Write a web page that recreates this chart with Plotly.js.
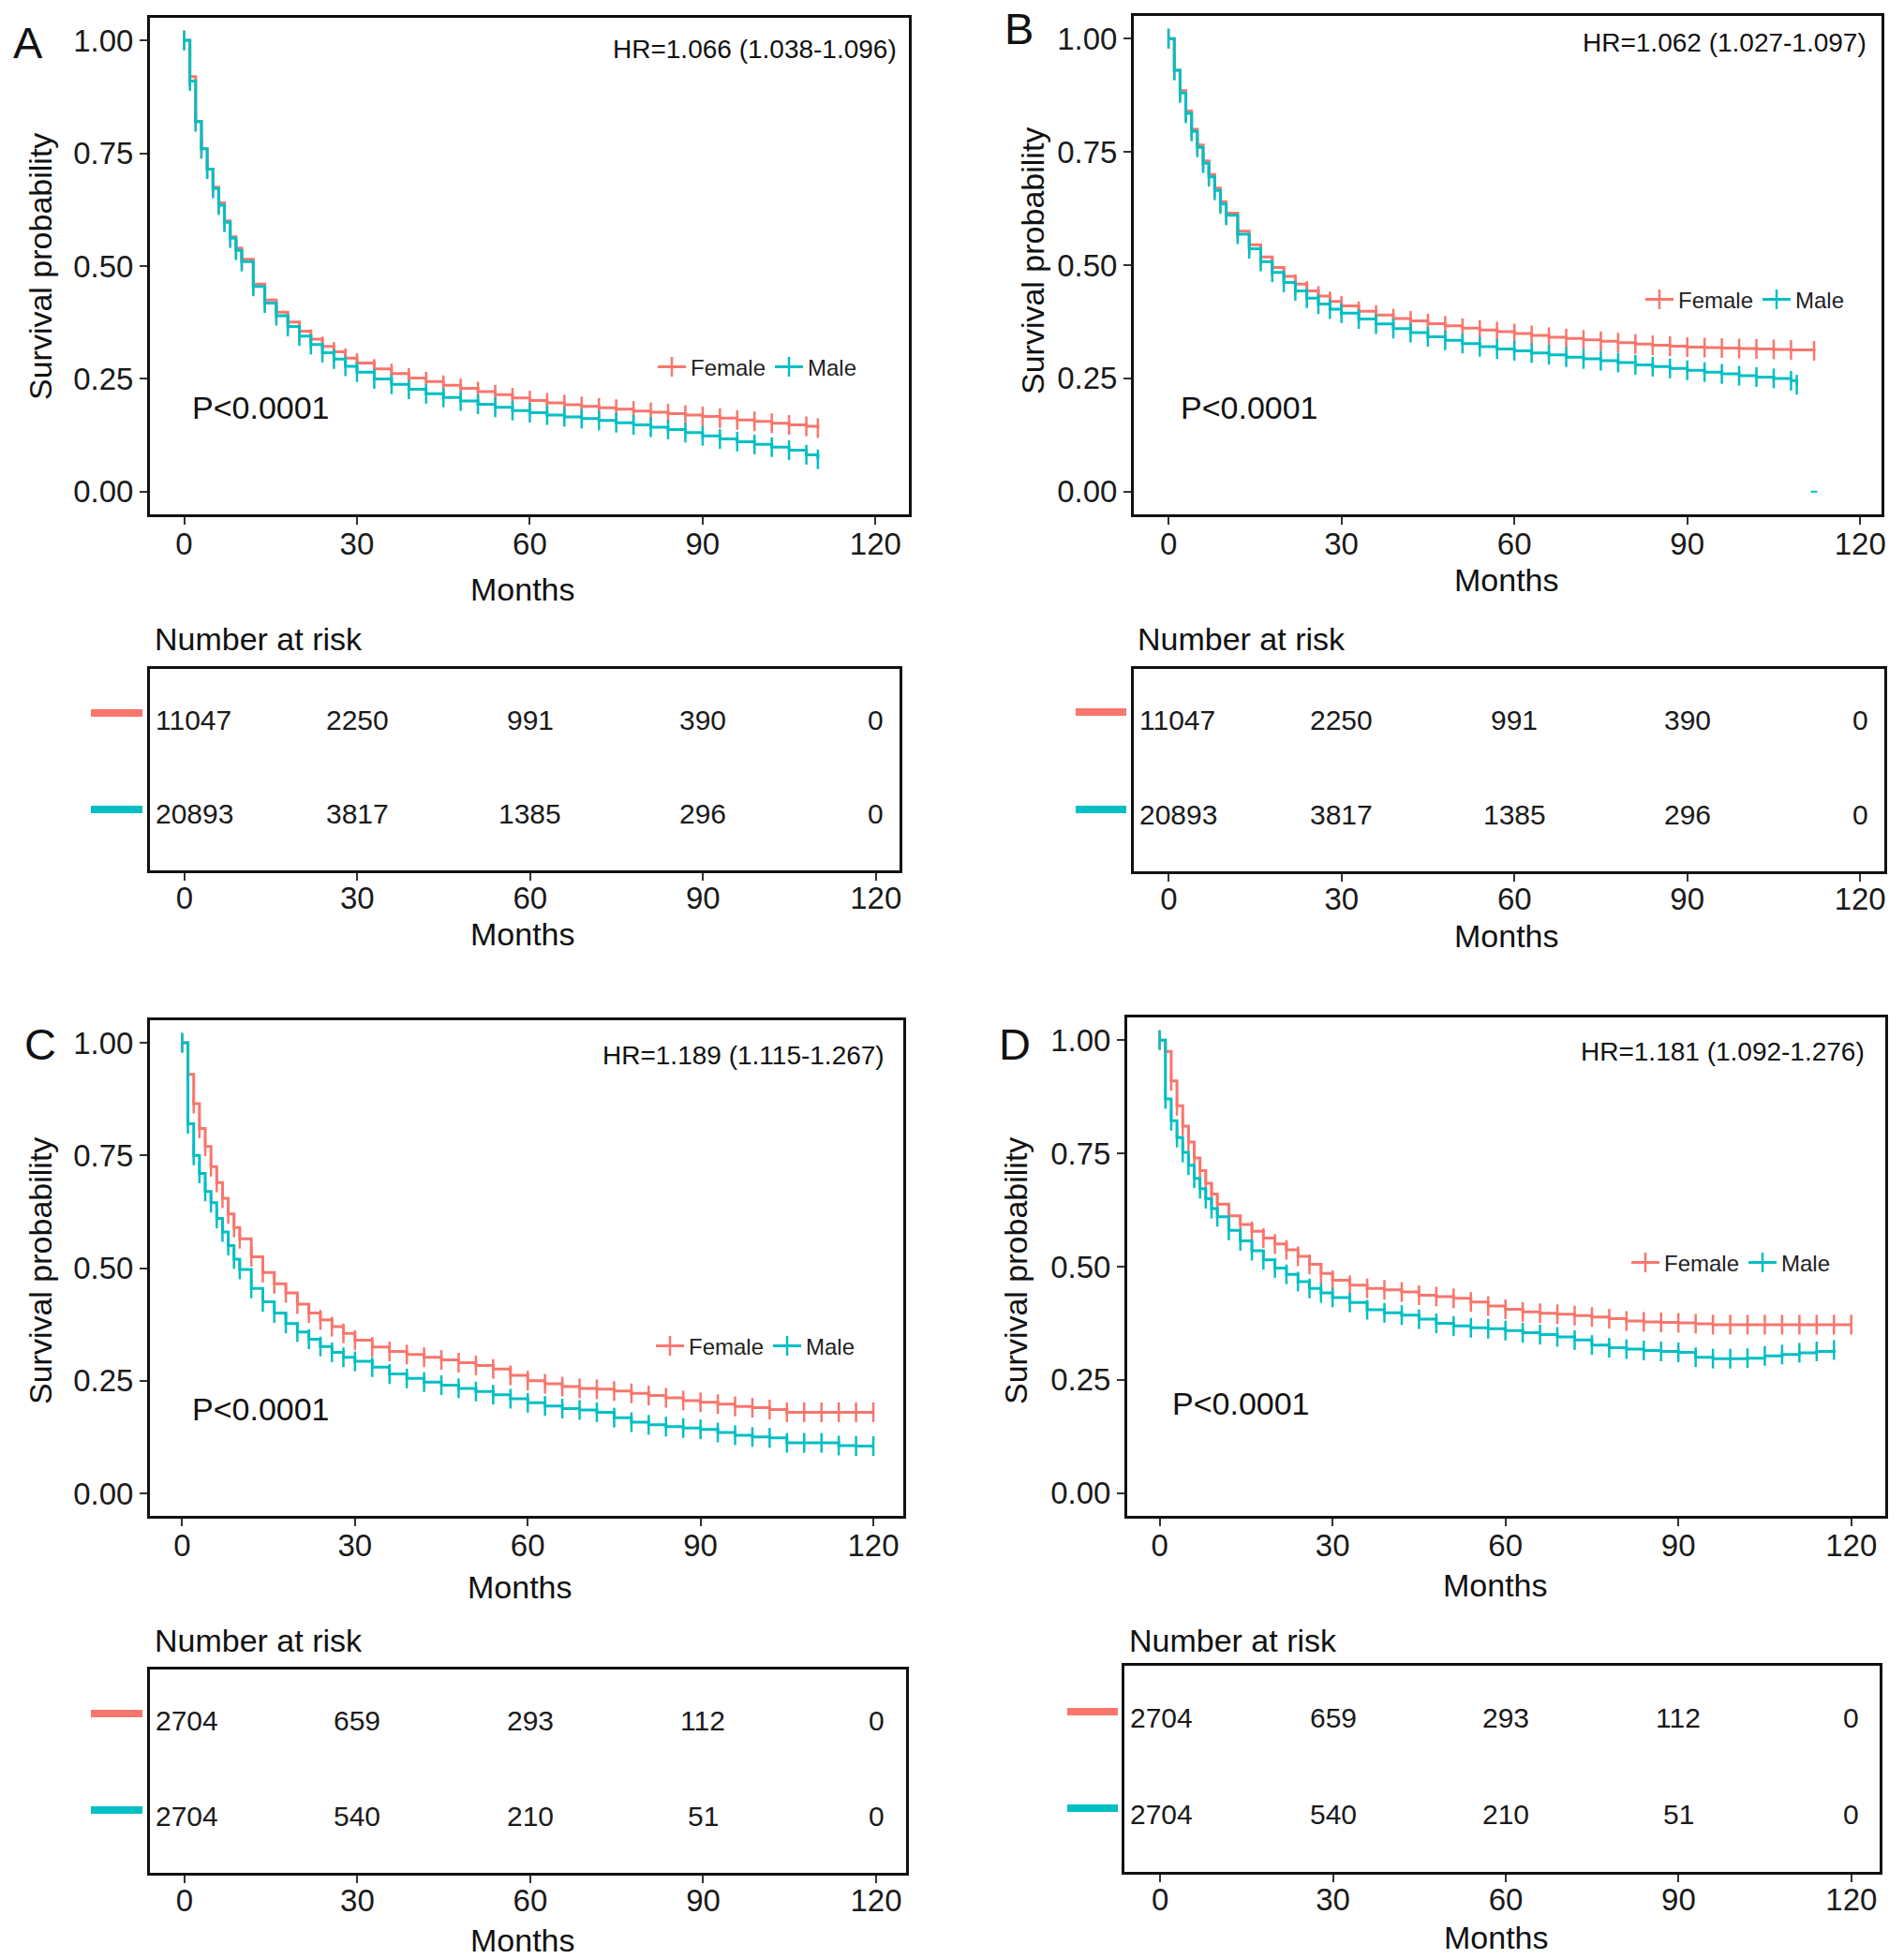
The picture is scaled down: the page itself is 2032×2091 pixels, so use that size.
<!DOCTYPE html>
<html>
<head>
<meta charset="utf-8">
<script src="https://cdn.plot.ly/plotly-3.0.1.min.js"></script>
<style>html,body{margin:0;padding:0;background:#fff;}#chart{width:2032px;height:2091px;}</style>
</head>
<body>
<div id="chart"></div>
<script>
// ---------------- DATA ----------------
var tA = [0,1,2,3,4,5,6,7,8,9,10,12,14,16,18,20,22,24,26,28,30,33,36,39,42,45,48,51,54,57,60,63,66,69,72,75,78,81,84,87,90,93,96,99,102,105,108,110];
var femaleA = [1.0,0.92,0.82,0.76,0.715,0.675,0.64,0.60,0.565,0.54,0.515,0.46,0.425,0.398,0.376,0.356,0.338,0.322,0.31,0.296,0.285,0.272,0.262,0.252,0.244,0.236,0.229,0.222,0.215,0.208,0.202,0.197,0.193,0.189,0.186,0.183,0.179,0.176,0.173,0.170,0.167,0.163,0.159,0.156,0.152,0.148,0.145,0.141];
var maleA = [1.0,0.91,0.82,0.76,0.715,0.672,0.635,0.597,0.562,0.535,0.51,0.455,0.418,0.39,0.366,0.345,0.326,0.308,0.294,0.278,0.265,0.25,0.238,0.227,0.217,0.209,0.201,0.194,0.187,0.18,0.175,0.170,0.166,0.162,0.158,0.153,0.148,0.143,0.138,0.131,0.124,0.117,0.111,0.105,0.099,0.092,0.082,0.072];

var tBf = [0,1,2,3,4,5,6,7,8,9,10,12,14,16,18,20,22,24,26,28,30,33,36,39,42,45,48,51,54,57,60,63,66,69,72,75,78,81,84,87,90,93,96,99,102,105,108,112];
var tBm = [0,1,2,3,4,5,6,7,8,9,10,12,14,16,18,20,22,24,26,28,30,33,36,39,42,45,48,51,54,57,60,63,66,69,72,75,78,81,84,87,90,93,96,99,102,105,108,109];
var femaleB = [1.0,0.93,0.885,0.84,0.80,0.765,0.73,0.70,0.67,0.64,0.615,0.575,0.545,0.518,0.495,0.475,0.458,0.443,0.432,0.42,0.41,0.398,0.39,0.382,0.377,0.371,0.366,0.361,0.357,0.353,0.349,0.345,0.341,0.338,0.335,0.332,0.329,0.326,0.323,0.321,0.319,0.318,0.317,0.316,0.315,0.314,0.313,0.311];
var maleB = [1.0,0.93,0.88,0.835,0.795,0.76,0.725,0.695,0.665,0.635,0.61,0.568,0.536,0.508,0.484,0.462,0.443,0.427,0.414,0.403,0.394,0.381,0.37,0.36,0.351,0.342,0.334,0.327,0.32,0.315,0.311,0.306,0.302,0.297,0.293,0.289,0.285,0.28,0.276,0.272,0.268,0.264,0.26,0.256,0.253,0.25,0.245,0.236];
var maleBTailT = [112];
var maleBTailS = [0];

var tC = [0,1,2,3,4,5,6,7,8,9,10,12,14,16,18,20,22,24,26,28,30,33,36,39,42,45,48,51,54,57,60,63,66,69,72,75,78,81,84,87,90,93,96,99,102,105,108,111,114,117,120];
var femaleC = [1.0,0.93,0.865,0.81,0.77,0.725,0.69,0.655,0.62,0.59,0.565,0.525,0.49,0.465,0.445,0.42,0.40,0.385,0.37,0.355,0.34,0.325,0.315,0.308,0.302,0.296,0.29,0.284,0.276,0.262,0.25,0.243,0.237,0.233,0.231,0.227,0.222,0.217,0.212,0.206,0.202,0.198,0.193,0.19,0.186,0.18,0.18,0.18,0.18,0.18,0.18];
var maleC = [1.0,0.82,0.75,0.71,0.67,0.645,0.61,0.58,0.55,0.52,0.497,0.455,0.425,0.40,0.377,0.358,0.342,0.326,0.313,0.302,0.293,0.28,0.265,0.255,0.247,0.24,0.233,0.226,0.219,0.21,0.201,0.194,0.188,0.185,0.18,0.168,0.158,0.152,0.148,0.145,0.142,0.135,0.129,0.125,0.123,0.112,0.112,0.112,0.106,0.105,0.105];

var tDf = [0,1,2,3,4,5,6,7,8,9,10,12,14,16,18,20,22,24,26,28,30,33,36,39,42,45,48,51,54,57,60,63,66,69,72,75,78,81,84,87,90,93,96,99,102,105,108,111,114,117,120];
var tDm = [0,1,2,3,4,5,6,7,8,9,10,12,14,16,18,20,22,24,26,28,30,33,36,39,42,45,48,51,54,57,60,63,66,69,72,75,78,81,84,87,90,93,96,99,102,105,108,111,114,117];
var femaleD = [1.0,0.975,0.91,0.855,0.81,0.775,0.74,0.712,0.684,0.66,0.638,0.612,0.593,0.578,0.563,0.55,0.537,0.523,0.505,0.485,0.47,0.459,0.452,0.449,0.444,0.437,0.434,0.43,0.422,0.413,0.406,0.40,0.397,0.395,0.392,0.389,0.385,0.38,0.378,0.377,0.376,0.374,0.372,0.372,0.372,0.372,0.372,0.372,0.372,0.372,0.372];
var maleD = [1.0,0.87,0.822,0.785,0.752,0.724,0.695,0.672,0.65,0.628,0.61,0.58,0.557,0.535,0.515,0.497,0.483,0.467,0.452,0.442,0.432,0.421,0.405,0.398,0.393,0.384,0.375,0.369,0.365,0.363,0.359,0.354,0.35,0.345,0.338,0.327,0.321,0.318,0.315,0.313,0.311,0.30,0.297,0.297,0.298,0.303,0.306,0.31,0.313,0.316];

var riskTimes = [0,30,60,90,120];
var riskFemaleAB = [11047,2250,991,390,0];
var riskMaleAB = [20893,3817,1385,296,0];
var riskFemaleCD = [2704,659,293,112,0];
var riskMaleCD = [2704,540,210,51,0];

var hrTexts = ["HR=1.066 (1.038-1.096)","HR=1.062 (1.027-1.097)","HR=1.189 (1.115-1.267)","HR=1.181 (1.092-1.276)"];
var pText = "P<0.0001";
var panelLetters = ["A","B","C","D"];
var tickVals = [0,30,60,90,120];
var yTickVals = [0,0.25,0.5,0.75,1];
var yTickText = ["0.00","0.25","0.50","0.75","1.00"];

// ---------------- STYLE ----------------
var W = 2032, H = 2091;
var RED = "#F8766D", CYAN = "#00BFC4";
var FONT = "Liberation Sans, Arial, Helvetica, sans-serif";
function X(p){return p/W;}
function Y(p){return 1-p/H;}

var plots = [
  {x:[160,970], y:[19,549], xr:[-5.94,125.8], leg:[697,392]},
  {x:[1210,2008], y:[17,549], xr:[-6.03,123.7], leg:[1751,320]},
  {x:[160,964], y:[1089,1618], xr:[-5.6,125.2], leg:[695,1437]},
  {x:[1203,2012], y:[1086,1618], xr:[-5.63,125.9], leg:[1736,1348]}
];
var risks = [
  {x:[160,960], y:[714,929], xr:[-6.0,124.1]},
  {x:[1210,2011], y:[714,930], xr:[-6.07,124.2]},
  {x:[160,967], y:[1782,1999], xr:[-6.0,125.2]},
  {x:[1200,2006], y:[1778,1998], xr:[-6.2,124.9]}
];

var series = [
  {tf:tA, f:femaleA, tm:tA, m:maleA},
  {tf:tBf, f:femaleB, tm:tBm, m:maleB},
  {tf:tC, f:femaleC, tm:tC, m:maleC},
  {tf:tDf, f:femaleD, tm:tDm, m:maleD}
];
var riskData = [
  [riskFemaleAB, riskMaleAB],[riskFemaleAB, riskMaleAB],
  [riskFemaleCD, riskMaleCD],[riskFemaleCD, riskMaleCD]
];

var layout = {
  width: W, height: H,
  margin: {l:0,r:0,t:0,b:0},
  paper_bgcolor: "#fff", plot_bgcolor: "#fff",
  font: {family: FONT, color: "#111"},
  showlegend: true,
  annotations: [], shapes: []
};
var data = [];

function axisCommon(){
  return {
    showgrid:false, zeroline:false,
    showline:true, mirror:true, linecolor:"#111", linewidth:3,
    ticks:"outside", ticklen:8, tickwidth:2, tickcolor:"#333",
    tickfont:{family:FONT, size:33, color:"#1a1a1a"},
    fixedrange:true
  };
}

for (var i=0;i<4;i++){
  var p = plots[i], s = series[i];
  var xa = "xaxis"+(i===0?"":(i+1)), ya = "yaxis"+(i===0?"":(i+1));
  var xs = "x"+(i===0?"":(i+1)), ys = "y"+(i===0?"":(i+1));
  var lg = "legend"+(i===0?"":(i+1));
  var xax = axisCommon();
  xax.domain=[X(p.x[0]),X(p.x[1])]; xax.range=p.xr; xax.tickvals=tickVals; xax.anchor=ys;
  xax.ticklabelstandoff = -8;
  var yax = axisCommon();
  yax.domain=[Y(p.y[1]),Y(p.y[0])]; yax.range=[-0.05,1.05]; yax.tickvals=yTickVals; yax.ticktext=yTickText; yax.anchor=xs;
  layout[xa]=xax; layout[ya]=yax;
  layout[lg] = {
    orientation:"h", x:X(p.leg[0]), y:Y(p.leg[1]), xanchor:"left", yanchor:"middle",
    bgcolor:"rgba(0,0,0,0)", font:{family:FONT,size:24,color:"#222"},
    itemwidth:30, tracegroupgap:0, itemclick:false
  };
  data.push({
    type:"scatter", mode:"lines+markers", x:s.tf, y:s.f, xaxis:xs, yaxis:ys,
    name:"Female", legend:lg, line:{color:RED,width:3,shape:"hv"},
    marker:{symbol:"line-ns",size:15,color:RED,line:{color:RED,width:2.5}}, hoverinfo:"skip"
  });
  data.push({
    type:"scatter", mode:"lines+markers", x:s.tm, y:s.m, xaxis:xs, yaxis:ys,
    name:"Male", legend:lg, line:{color:CYAN,width:3,shape:"hv"},
    marker:{symbol:"line-ns",size:15,color:CYAN,line:{color:CYAN,width:2.5}}, hoverinfo:"skip"
  });
  if (i===1){
    data.push({type:"scatter", mode:"markers", x:maleBTailT, y:maleBTailS, xaxis:xs, yaxis:ys,
      showlegend:false, marker:{symbol:"line-ew",size:5,color:CYAN,line:{color:CYAN,width:2}}, hoverinfo:"skip"});
  }
}

for (var j=0;j<4;j++){
  var r = risks[j];
  var k = j+5;
  var xs2 = "x"+k, ys2 = "y"+k;
  var xa2 = axisCommon();
  xa2.domain=[X(r.x[0]),X(r.x[1])]; xa2.range=r.xr; xa2.tickvals=tickVals; xa2.anchor=ys2;
  xa2.ticklabelstandoff = -10;
  var ya2 = axisCommon();
  ya2.domain=[Y(r.y[1]),Y(r.y[0])]; ya2.range=[0.4,2.54]; ya2.ticks=""; ya2.showticklabels=false; ya2.anchor=xs2;
  layout["xaxis"+k]=xa2; layout["yaxis"+k]=ya2;
  var rows = riskData[j];
  for (var row=0; row<2; row++){
    var yv = row===0 ? 2 : 1;
    for (var c=0;c<riskTimes.length;c++){
      layout.annotations.push({
        xref:xs2, yref:ys2, x:riskTimes[c], y:yv, text:String(rows[row][c]),
        showarrow:false, xanchor: c===0?"left":"center", yanchor:"middle",
        xshift: c===0 ? -((riskTimes[c]-r.xr[0])/(r.xr[1]-r.xr[0]))*(r.x[1]-r.x[0]) + 4 : 0,
        font:{family:FONT,size:30,color:"#1a1a1a"}
      });
    }
  }
}

var letterPos = [[30,46],[1087,31],[43,1114],[1083,1114]];
var hrPos = [[959,52],[1994,46],[946,1126],[1992,1122]];
var pPos = [[203,435],[1258,435],[203,1504],[1249,1498]];
var ytPos = [[43,285],[1102,279],[43,1357],[1084,1357]];
var monthsPlot = [[558,629],[1608,619],[555,1694],[1596,1692]];
var monthsRisk = [[558,997],[1608,999],[558,2071],[1597,2068]];
var narPos = [[163,682],[1212,682],[163,1751],[1203,1751]];
var keyX = [[97,152],[1148,1202],[97,152],[1139,1193]];
var keyY = [[761,864],[760,864],[1829,1932],[1827,1930]];

function ann(x,y,text,size,xanchor,extra){
  var a = {xref:"paper",yref:"paper",x:X(x),y:Y(y),text:text,showarrow:false,
    xanchor:xanchor||"center",yanchor:"middle",font:{family:FONT,size:size,color:"#111"}};
  if (extra) for (var kk in extra) a[kk]=extra[kk];
  layout.annotations.push(a);
}
for (var q=0;q<4;q++){
  ann(letterPos[q][0],letterPos[q][1],panelLetters[q],47,"center");
  ann(hrPos[q][0],hrPos[q][1],hrTexts[q],28,"right");
  ann(pPos[q][0],pPos[q][1],pText,34,"left");
  ann(ytPos[q][0],ytPos[q][1],"Survival probability",34,"center",{textangle:-90});
  ann(monthsPlot[q][0],monthsPlot[q][1],"Months",34,"center");
  ann(monthsRisk[q][0],monthsRisk[q][1],"Months",34,"center");
  ann(narPos[q][0],narPos[q][1],"Number at risk",34,"left");
  var cols=[RED,CYAN];
  for (var z=0;z<2;z++){
    layout.shapes.push({type:"rect",xref:"paper",yref:"paper",
      x0:X(keyX[q][0]),x1:X(keyX[q][1]),y0:Y(keyY[q][z]+4),y1:Y(keyY[q][z]-4),
      fillcolor:cols[z],line:{width:0}});
  }
}

Plotly.newPlot("chart", data, layout, {staticPlot:true, displayModeBar:false});
</script>
</body>
</html>
